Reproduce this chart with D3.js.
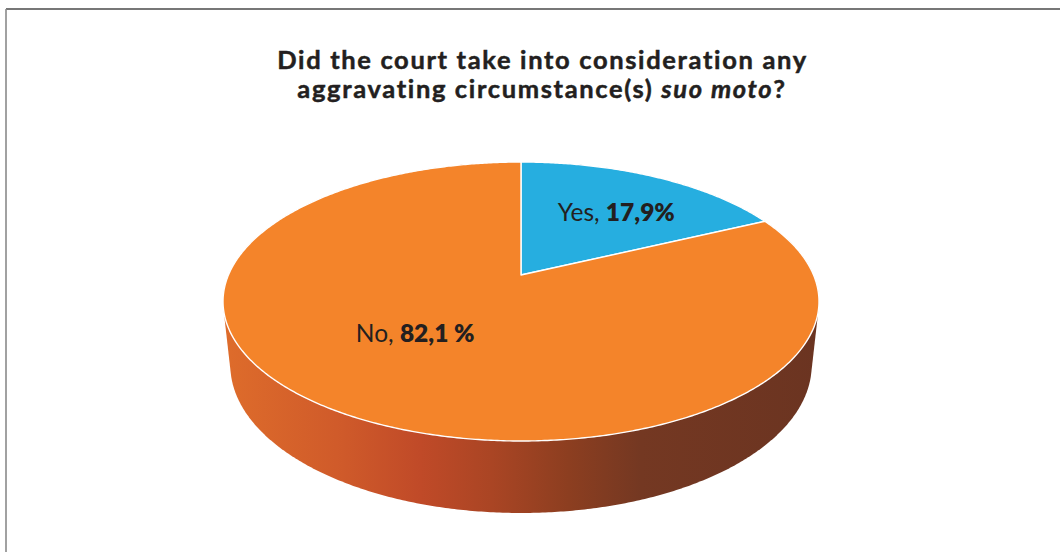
<!DOCTYPE html>
<html>
<head>
<meta charset="utf-8">
<script src="https://cdn.jsdelivr.net/npm/d3@7"></script>
<style>
  html, body { margin: 0; padding: 0; background: #ffffff; }
  svg { display: block; }
</style>
</head>
<body>
<svg id="chart" width="1060" height="552"></svg>
<script>
// ---- data ----
const categories = ["Yes", "No"];
const values = [17.9, 82.1];
const valueLabels = ["17,9%", "82,1 %"];
const colors = ["#26aee0", "#f4842a"];
const titleLines = ["Did the court take into consideration any", "aggravating circumstance(s) "];
const titleItalic = "suo moto";
const titleEnd = "?";

const W = 1060, H = 552;
const svg = d3.select("#chart");

// frame
svg.append("line").attr("x1", 6).attr("y1", 9).attr("x2", W).attr("y2", 9)
  .attr("stroke", "#4a4a4a").attr("stroke-width", 1.6);
svg.append("line").attr("x1", 6).attr("y1", 9).attr("x2", 6).attr("y2", H)
  .attr("stroke", "#8a8a8a").attr("stroke-width", 1.6);

// ---- perspective projection of a 3D pie ----
const cx = 521, cy = 275;          // projected centre of the top disc
const phi = 27.36 * Math.PI / 180; // camera elevation
const cphi = Math.cos(phi), sphi = Math.sin(phi);
const L = 4.675, F = 1367.7, depth = 0.2467;

function project(theta, r, z) {
  // theta: clockwise from the back (12 o'clock), r: radius fraction, z: height
  const X = r * Math.sin(theta), Y = -r * Math.cos(theta);
  const vy = Y - L * cphi, vz = z - L * sphi;
  const d = -vy * cphi - vz * sphi;
  const up = -vy * sphi + vz * cphi;
  return [cx + F * X / d, cy - F * up / d];
}

const pie = d3.pie().sort(null).value(d => d)(values);
const line = d3.line();

// side wall: convex hull of top and bottom circles
const ringPts = [];
for (let i = 0; i < 720; i++) {
  const t = i / 720 * 2 * Math.PI;
  ringPts.push(project(t, 1, 0));
  ringPts.push(project(t, 1, -depth));
}
const hull = d3.polygonHull(ringPts);

const defs = svg.append("defs");
const grad = defs.append("linearGradient").attr("id", "sideGrad")
  .attr("gradientUnits", "userSpaceOnUse")
  .attr("x1", 224).attr("y1", 0).attr("x2", 819).attr("y2", 0);
[[0, "#de6c2b"], [0.2, "#cf5a2a"], [0.33, "#c04a28"], [0.45, "#aa4524"],
 [0.58, "#8c3e20"], [0.7, "#743822"], [1, "#6b3421"]]
  .forEach(([o, c]) => grad.append("stop").attr("offset", o).attr("stop-color", c));

svg.append("path").attr("d", line(hull) + "Z").attr("fill", "url(#sideGrad)");

// top face slices
pie.forEach((s, i) => {
  const pts = [project(0, 0, 0)];
  const n = Math.max(8, Math.ceil((s.endAngle - s.startAngle) / (Math.PI / 360)));
  for (let k = 0; k <= n; k++) {
    pts.push(project(s.startAngle + (s.endAngle - s.startAngle) * k / n, 1, 0));
  }
  svg.append("path").attr("d", line(pts) + "Z")
    .attr("fill", colors[i]).attr("stroke", "#ffffff").attr("stroke-width", 1.4)
    .attr("stroke-linejoin", "round");
});

// labels
const labelFont = "Lato, 'Open Sans', sans-serif";
const labelCfg = [{ r: 0.6, dx: 10, dy: 0 }, { r: 0.5, dx: -21, dy: -3 }];
pie.forEach((s, i) => {
  const mid = (s.startAngle + s.endAngle) / 2;
  const p = project(mid, labelCfg[i].r, 0);
  const t = svg.append("text")
    .attr("x", p[0] + labelCfg[i].dx).attr("y", p[1] + labelCfg[i].dy + 8.5)
    .attr("text-anchor", "middle")
    .attr("font-family", labelFont).attr("font-size", 24.5).attr("fill", "#231f20");
  t.append("tspan").attr("font-weight", 400).text(categories[i] + ", ");
  t.append("tspan").attr("font-weight", 800).text(valueLabels[i]);
});

// title
const titleFont = "Lato, 'Open Sans', sans-serif";
const titleSize = 25.5;
const t1 = svg.append("text").attr("x", 542.5).attr("y", 69)
  .attr("text-anchor", "middle").attr("font-family", titleFont)
  .attr("font-weight", 700).attr("font-size", titleSize).attr("fill", "#231f20")
  .attr("stroke", "#231f20").attr("stroke-width", 0.5)
  .text(titleLines[0]);
const t2 = svg.append("text").attr("x", 542).attr("y", 98)
  .attr("text-anchor", "middle").attr("font-family", titleFont)
  .attr("font-weight", 700).attr("font-size", titleSize).attr("fill", "#231f20")
  .attr("stroke", "#231f20").attr("stroke-width", 0.5);
t2.append("tspan").text(titleLines[1]);
t2.append("tspan").attr("font-style", "italic").text(titleItalic);
t2.append("tspan").text(titleEnd);

// fit title widths to the reference using letter spacing
const w1 = t1.node().getComputedTextLength();
const n1 = titleLines[0].length;
const ls = Math.max(-1, Math.min(2, (531 - w1) / n1));
t1.attr("letter-spacing", ls);
t2.attr("letter-spacing", ls);
</script>
</body>
</html>
